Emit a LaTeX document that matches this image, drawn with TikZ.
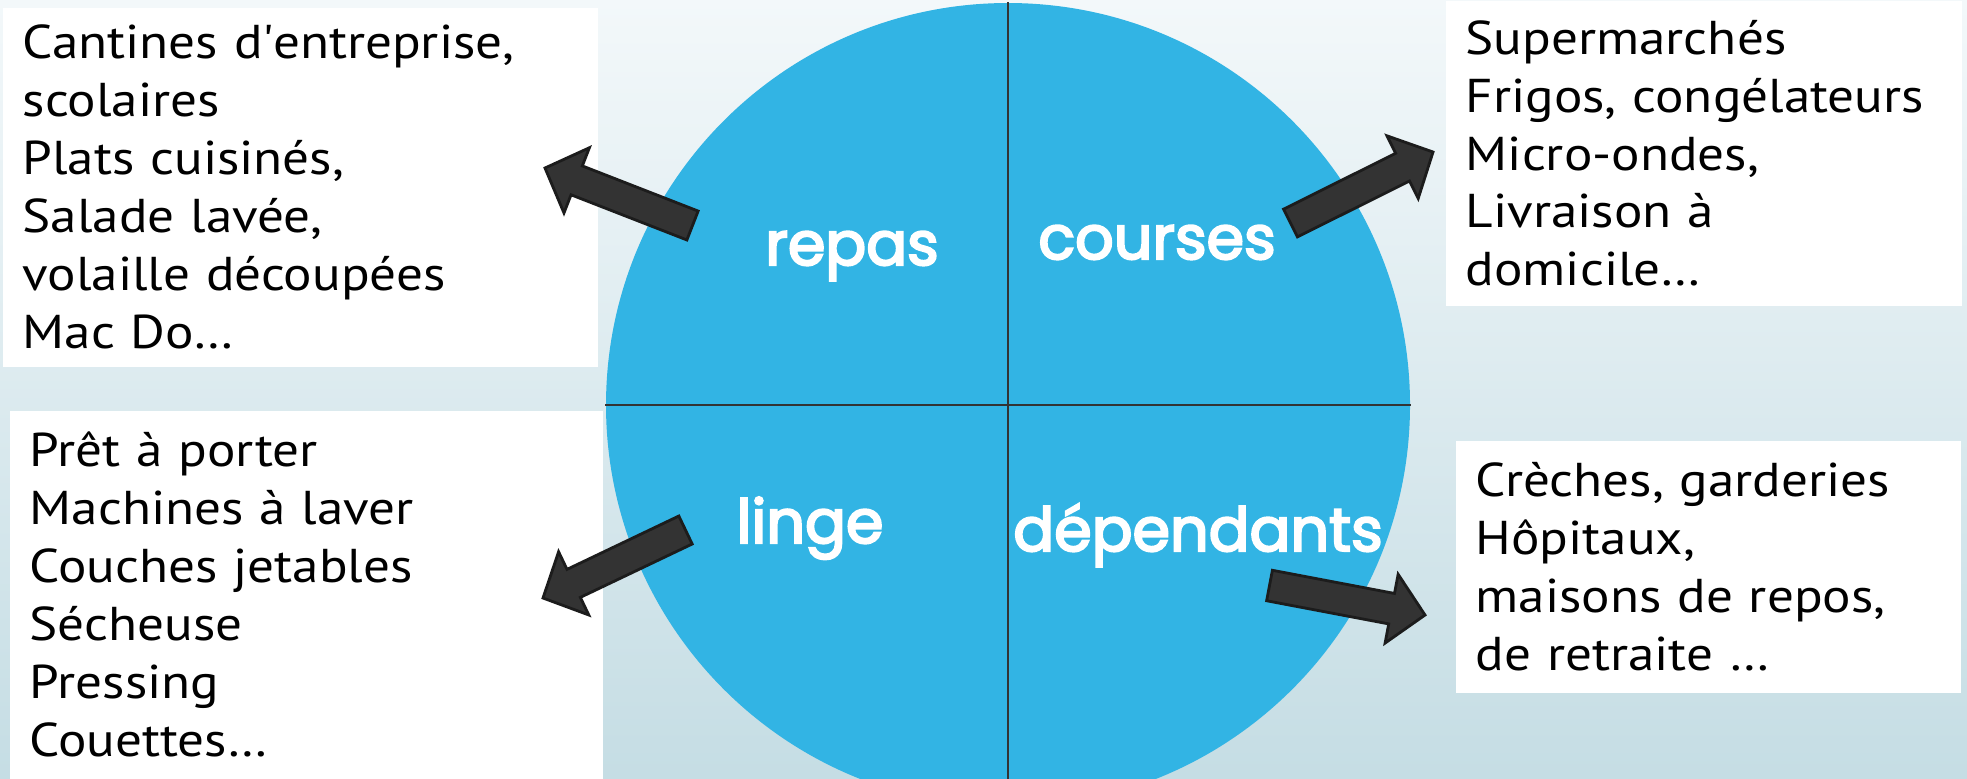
\documentclass[tikz,border=0pt]{standalone}
\usepackage{fontspec}
\setmainfont{PT Sans}[FakeStretch=1.12]
\newfontfamily\labelfont{Poppins}[FakeBold=3.5]
\usepackage{xcolor}
\usetikzlibrary{positioning,calc}
\definecolor{circlecolor}{RGB}{50,180,228}
\definecolor{arrowcolor}{RGB}{51,51,51}
\definecolor{arrowedge}{RGB}{28,28,28}
\definecolor{bgtop}{RGB}{243,248,250}
\definecolor{bgbottom}{RGB}{197,221,228}
\tikzset{
    info box/.style={rectangle, fill=white, anchor=north west, inner xsep=0.2cm, inner ysep=0pt, align=left, font=\fontsize{13.5}{16.5}\selectfont},
    quarter label/.style={text=white, anchor=base, font=\labelfont\fontsize{17.2}{20}\selectfont},
    divider/.style={draw=black!80, line width=0.6pt},
    block arrow/.style={fill=arrowcolor, draw=arrowedge, line width=0.8pt, line join=miter}
}
% block arrow from a tail coordinate to a tip coordinate
\newcommand{\blockarrow}[2]{%
    \coordinate (#2-base) at ($(#2)!0.34cm!(#1)$);
    \draw[block arrow] ($(#1)!0.155cm!90:(#2)$) -- ($(#2-base)!0.155cm!90:(#2)$)
        -- ($(#2-base)!0.35cm!90:(#2)$) -- (#2) -- ($(#2-base)!0.35cm!-90:(#2)$)
        -- ($(#2-base)!0.155cm!-90:(#2)$) -- ($(#1)!0.155cm!-90:(#2)$) -- cycle;
}

\begin{document}
\begin{tikzpicture}
    % Background
    \clip (0,0) rectangle (19.67,7.78);
    \shade[top color=bgtop, bottom color=bgbottom] (0,0) rectangle (19.67,7.78);

    % Central circle split in four
    \node[circle, fill=circlecolor, minimum size=8.04cm, inner sep=0pt] (tasks) at (10.08,3.73) {};
    \draw[divider] (tasks.north) -- (tasks.south);
    \draw[divider] (tasks.west) -- (tasks.east);

    % Quarter labels
    \node[quarter label] (repas) at (8.52,5.13) {repas};
    \node[quarter label] (courses) at (11.57,5.19) {courses};
    \node[quarter label] (linge) at (8.10,2.35) {linge};
    \node[quarter label] (dependants) at (11.98,2.27) {dépendants};

    % Text boxes
    \node[info box, text width=5.55cm, minimum height=3.59cm] (repas-box) at (0.02,7.71)
        {Cantines d\textquotesingle entreprise,\\scolaires\\Plats cuisinés,\\Salade lavée,\\volaille découpées\\Mac Do…};
    \node[info box, text width=4.76cm, minimum height=3.05cm] (courses-box) at (14.45,7.78)
        {Supermarchés\\Frigos, congélateurs\\Micro-ondes,\\Livraison à\\domicile…};
    \node[info box, text width=5.53cm, minimum height=3.68cm] (linge-box) at (0.09,3.68)
        {Prêt à porter\\Machines à laver\\Couches jetables\\Sécheuse\\Pressing\\Couettes…};
    \node[info box, text width=4.65cm, minimum height=2.52cm] (dependants-box) at (14.55,3.38)
        {Crèches, garderies\\Hôpitaux,\\maisons de repos,\\de retraite …};

    % Arrows
    \coordinate (repas-from) at (6.925,5.525);
    \coordinate (repas-to) at (5.45,6.10);
    \coordinate (courses-from) at (12.905,5.55);
    \coordinate (courses-to) at (14.33,6.26);
    \coordinate (linge-from) at (6.855,2.48);
    \coordinate (linge-to) at (5.43,1.80);
    \coordinate (dependants-from) at (12.695,1.925);
    \coordinate (dependants-to) at (14.25,1.63);
    \blockarrow{repas-from}{repas-to}
    \blockarrow{courses-from}{courses-to}
    \blockarrow{linge-from}{linge-to}
    \blockarrow{dependants-from}{dependants-to}
\end{tikzpicture}
\end{document}
